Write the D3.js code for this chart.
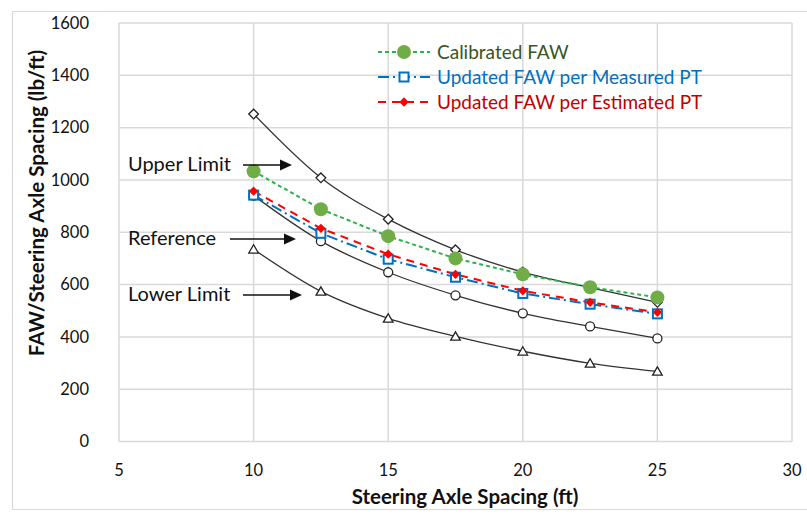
<!DOCTYPE html>
<html>
<head>
<meta charset="utf-8">
<script src="https://cdn.jsdelivr.net/npm/d3@7"></script>
<style>
  body { margin: 0; background: #fff; }
  svg { display: block; }
</style>
</head>
<body>
<div id="chart"></div>
<script>
const spacing = [10, 12.5, 15, 17.5, 20, 22.5, 25];
const upperLimit = [1252, 1008, 850, 733, 648, 588, 532];
const reference = [940, 766, 647, 559, 490, 440, 394];
const lowerLimit = [735, 574, 471, 402, 345, 299, 268];
const calibrated = [1033, 888, 785, 700, 639, 590, 551];
const measuredPT = [942, 796, 697, 628, 566, 525, 488];
const estimatedPT = [957, 815, 716, 639, 576, 532, 494];
const xTicks = [5, 10, 15, 20, 25, 30];
const yTicks = [0, 200, 400, 600, 800, 1000, 1200, 1400, 1600];
const legendNames = ["Calibrated FAW", "Updated FAW per Measured PT", "Updated FAW per Estimated PT"];
const limitNames = ["Upper Limit", "Reference", "Lower Limit"];

const width = 807, height = 519;
const font = "Lato, 'Open Sans', sans-serif";

const x = d3.scaleLinear().domain([5, 30]).range([119, 792]);
const y = d3.scaleLinear().domain([0, 1600]).range([441.5, 23]);

const svg = d3.select("#chart")
  .append("svg")
  .attr("width", width)
  .attr("height", height)
  .attr("font-family", font);

// outer chart border
svg.append("path")
  .attr("d", `M${width + 5},11.5 H12.5 V509.5 H${width + 5}`)
  .attr("fill", "none")
  .attr("stroke", "#d9d9d9")
  .attr("stroke-width", 1.2);

// gridlines
svg.append("g").selectAll("line")
  .data(yTicks)
  .join("line")
    .attr("x1", x(5)).attr("x2", x(30))
    .attr("y1", d => y(d)).attr("y2", d => y(d))
    .attr("stroke", "#d9d9d9").attr("stroke-width", 1.5);

svg.append("g").selectAll("line")
  .data(xTicks)
  .join("line")
    .attr("x1", d => x(d)).attr("x2", d => x(d))
    .attr("y1", y(0)).attr("y2", y(1600))
    .attr("stroke", "#d9d9d9").attr("stroke-width", 1.5);

// tick labels
svg.append("g").selectAll("text")
  .data(yTicks)
  .join("text")
    .attr("x", 89)
    .attr("y", d => y(d))
    .attr("dy", "0.35em")
    .attr("text-anchor", "end")
    .attr("font-size", 16.5)
    .attr("fill", "#111")
    .text(d => d);

svg.append("g").selectAll("text")
  .data(xTicks)
  .join("text")
    .attr("x", d => x(d))
    .attr("y", 470)
    .attr("dy", "0.35em")
    .attr("text-anchor", "middle")
    .attr("font-size", 16.5)
    .attr("fill", "#111")
    .text(d => d);

// axis titles
svg.append("text")
  .attr("x", 465).attr("y", 497).attr("dy", "0.35em")
  .attr("text-anchor", "middle")
  .attr("font-size", 20.5).attr("font-weight", "bold")
  .attr("fill", "#111")
  .text("Steering Axle Spacing (ft)");

svg.append("text")
  .attr("transform", "translate(37,203) rotate(-90)")
  .attr("dy", "0.35em")
  .attr("text-anchor", "middle")
  .attr("font-size", 20.5).attr("font-weight", "bold")
  .attr("fill", "#111")
  .text("FAW/Steering Axle Spacing (lb/ft)");

// limit curves (black, smooth)
const smooth = d3.line()
  .x((d, i) => x(spacing[i]))
  .y(d => y(d))
  .curve(d3.curveMonotoneX);

const straight = d3.line()
  .x((d, i) => x(spacing[i]))
  .y(d => y(d));

[upperLimit, reference, lowerLimit].forEach(s => {
  svg.append("path")
    .attr("d", smooth(s))
    .attr("fill", "none")
    .attr("stroke", "#333")
    .attr("stroke-width", 1.3);
});

const diamond = d3.symbol().type(d3.symbolDiamond2).size(60);
const tri = d3.symbol().type(d3.symbolTriangle).size(40);

svg.append("g").selectAll("path")
  .data(upperLimit)
  .join("path")
    .attr("transform", (d, i) => `translate(${x(spacing[i])},${y(d)})`)
    .attr("d", diamond)
    .attr("fill", "#fff").attr("stroke", "#222").attr("stroke-width", 1.3);

svg.append("g").selectAll("circle")
  .data(reference)
  .join("circle")
    .attr("cx", (d, i) => x(spacing[i]))
    .attr("cy", d => y(d))
    .attr("r", 4.5)
    .attr("fill", "#fff").attr("stroke", "#222").attr("stroke-width", 1.3);

svg.append("g").selectAll("path")
  .data(lowerLimit)
  .join("path")
    .attr("transform", (d, i) => `translate(${x(spacing[i])},${y(d) + 1})`)
    .attr("d", tri)
    .attr("fill", "#fff").attr("stroke", "#222").attr("stroke-width", 1.3);

// updated series
const series = [
  { values: calibrated, line: "#2db24a", dash: "4,3", text: "#375623", marker: "circle" },
  { values: measuredPT, line: "#0070c0", dash: "11,4,2,4", text: "#0070c0", marker: "square" },
  { values: estimatedPT, line: "#ff0000", dash: "8,6", text: "#c00000", marker: "diamond" }
];

function drawMarker(g, type) {
  if (type === "circle") {
    g.append("circle").attr("r", 7).attr("fill", "#70ad47");
  } else if (type === "square") {
    g.append("rect").attr("x", -4.5).attr("y", -4.5).attr("width", 9).attr("height", 9)
      .attr("fill", "#fff").attr("stroke", "#0070c0").attr("stroke-width", 2);
  } else {
    g.append("path").attr("d", d3.symbol().type(d3.symbolDiamond2).size(55)).attr("fill", "#ff0000");
  }
}

series.forEach(s => {
  svg.append("path")
    .attr("d", straight(s.values))
    .attr("fill", "none")
    .attr("stroke", s.line)
    .attr("stroke-width", 2)
    .attr("stroke-dasharray", s.dash);
});

// markers: squares, then red diamonds, green circles on top
[1, 2, 0].forEach(k => {
  const s = series[k];
  s.values.forEach((v, i) => {
    const g = svg.append("g").attr("transform", `translate(${x(spacing[i])},${y(v)})`);
    drawMarker(g, s.marker);
  });
});

// legend
const legend = svg.append("g");
series.forEach((s, i) => {
  const ly = 52 + i * 25;
  legend.append("line")
    .attr("x1", 378).attr("x2", 430).attr("y1", ly).attr("y2", ly)
    .attr("stroke", s.line).attr("stroke-width", 2).attr("stroke-dasharray", s.dash);
  const g = legend.append("g").attr("transform", `translate(404,${ly})`);
  drawMarker(g, s.marker);
  legend.append("text")
    .attr("x", 437).attr("y", ly).attr("dy", "0.35em")
    .attr("font-size", 19)
    .attr("fill", s.text)
    .text(legendNames[i]);
});

// annotations with arrows
const annoY = [164, 238, 294];
const arrowX = [[243, 292], [230, 296], [243, 302]];
limitNames.forEach((name, i) => {
  svg.append("text")
    .attr("x", 128).attr("y", annoY[i]).attr("dy", "0.35em")
    .attr("font-size", 20).attr("fill", "#111")
    .text(name);
  const ay = annoY[i] + 1;
  const [a0, a1] = arrowX[i];
  svg.append("line")
    .attr("x1", a0).attr("x2", a1 - 10).attr("y1", ay).attr("y2", ay)
    .attr("stroke", "#111").attr("stroke-width", 1.3);
  svg.append("path")
    .attr("d", `M${a1},${ay} L${a1 - 12},${ay - 5.5} L${a1 - 12},${ay + 5.5} Z`)
    .attr("fill", "#111");
});
</script>
</body>
</html>
